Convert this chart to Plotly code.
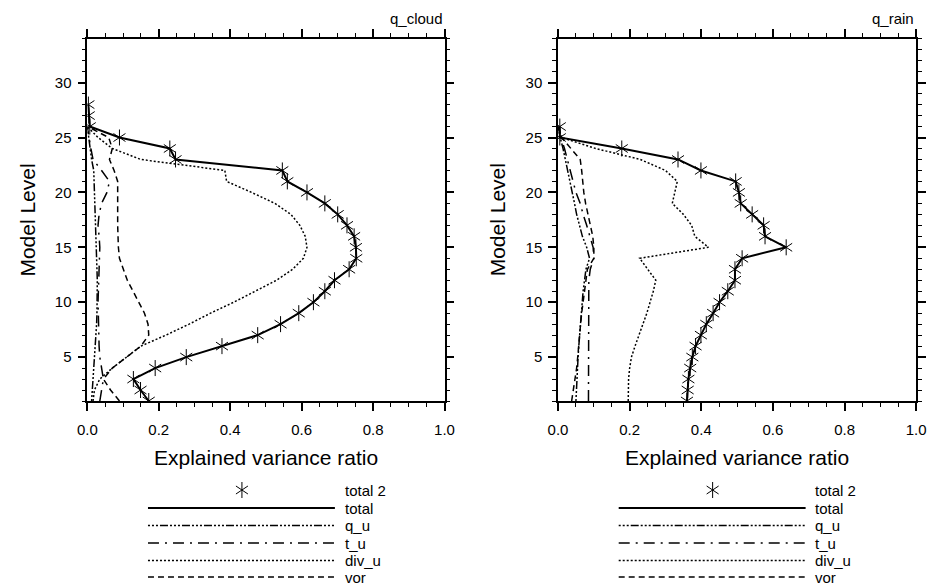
import plotly.graph_objects as go

W, H = 935, 584

# Model levels
levels_cloud = list(range(1, 29))
levels = list(range(1, 27))

# q_cloud panel
total_cloud = [0.172, 0.149, 0.129, 0.19, 0.277, 0.377, 0.477, 0.541, 0.592, 0.633,
               0.665, 0.692, 0.733, 0.753, 0.752, 0.747, 0.727, 0.701, 0.665, 0.615,
               0.56, 0.546, 0.247, 0.231, 0.09, 0.007, 0.004, 0.003]
qu_cloud = [0.012, 0.014, 0.016, 0.02, 0.022, 0.024, 0.025, 0.026, 0.027, 0.028,
            0.028, 0.028, 0.027, 0.026, 0.025, 0.024, 0.023, 0.022, 0.021, 0.02,
            0.02, 0.018, 0.012, 0.008, 0.004, 0.0]
tu_cloud = [0.035, 0.04, 0.045, 0.04, 0.035, 0.033, 0.032, 0.03, 0.03, 0.03,
            0.031, 0.032, 0.033, 0.034, 0.035, 0.033, 0.03, 0.033, 0.04, 0.055,
            0.062, 0.04, 0.016, 0.01, 0.005, 0.0]
divu_cloud = [0.016, 0.02, 0.035, 0.07, 0.11, 0.15, 0.22, 0.285, 0.345, 0.41,
              0.47, 0.53, 0.575, 0.605, 0.615, 0.61, 0.595, 0.57, 0.525, 0.46,
              0.39, 0.385, 0.15, 0.07, 0.03, 0.0]
vor_cloud = [0.09, 0.065, 0.045, 0.07, 0.11, 0.15, 0.172, 0.17, 0.16, 0.145,
             0.128, 0.112, 0.1, 0.09, 0.087, 0.085, 0.085, 0.085, 0.085, 0.085,
             0.085, 0.075, 0.062, 0.07, 0.06, 0.0]

# q_rain panel
total_rain = [0.36, 0.362, 0.364, 0.369, 0.375, 0.384, 0.399, 0.414, 0.433, 0.451,
              0.474, 0.494, 0.494, 0.514, 0.637, 0.578, 0.574, 0.542, 0.51, 0.505,
              0.496, 0.399, 0.335, 0.178, 0.005, 0.005]
qu_rain = [0.05, 0.051, 0.052, 0.054, 0.056, 0.058, 0.06, 0.062, 0.064, 0.067,
           0.07, 0.074, 0.078, 0.088, 0.08, 0.068, 0.059, 0.052, 0.046, 0.04,
           0.033, 0.027, 0.02, 0.014, 0.006, 0.0]
tu_rain = [0.085, 0.085, 0.085, 0.085, 0.085, 0.085, 0.085, 0.085, 0.085, 0.085,
           0.085, 0.086, 0.09, 0.1, 0.098, 0.09, 0.08, 0.07, 0.062, 0.05,
           0.042, 0.035, 0.028, 0.018, 0.008, 0.0]
divu_rain = [0.196, 0.196, 0.197, 0.2, 0.205, 0.215, 0.225, 0.237, 0.248, 0.258,
             0.266, 0.273, 0.25, 0.228, 0.42, 0.382, 0.373, 0.35, 0.319, 0.325,
             0.333, 0.3, 0.23, 0.105, 0.01, 0.0]
vor_rain = [0.038, 0.043, 0.048, 0.052, 0.055, 0.057, 0.06, 0.063, 0.066, 0.07,
            0.074, 0.078, 0.082, 0.1, 0.1, 0.097, 0.09, 0.085, 0.077, 0.072,
            0.07, 0.066, 0.062, 0.035, 0.01, 0.0]

legend_names = ['total 2', 'total', 'q_u', 't_u', 'div_u', 'vor']

FONT = 'Liberation Sans, Arial, Helvetica, sans-serif'
DASH = {
    'total': 'solid',
    'q_u': '2px,2px,2px,2px,2px,2px,8px,2px',
    't_u': '11px,6px,2px,6px',
    'div_u': '2px,2px',
    'vor': '6px,4px',
}
WIDTH = {'total': 2, 'q_u': 1.5, 't_u': 1.5, 'div_u': 1.5, 'vor': 1.5}


def fx(px):
    return px / W


def fy(py):
    return 1 - py / H


def star_traces(x, y, xa, ya):
    out = []
    for sym in ['y-up', 'y-down']:
        out.append(go.Scatter(
            x=x, y=y, xaxis=xa, yaxis=ya, mode='markers', showlegend=False,
            marker=dict(symbol=sym, size=10, color='black',
                        line=dict(width=1, color='black')),
        ))
    return out


def panel_traces(lev_tot, total, qu, tu, divu, vor, xa, ya):
    traces = []
    for name, vals in [('vor', vor), ('div_u', divu), ('t_u', tu), ('q_u', qu)]:
        traces.append(go.Scatter(
            x=vals, y=levels, xaxis=xa, yaxis=ya, mode='lines', showlegend=False,
            line=dict(color='black', width=WIDTH[name], dash=DASH[name]),
        ))
    traces.append(go.Scatter(
        x=total, y=lev_tot, xaxis=xa, yaxis=ya, mode='lines', showlegend=False,
        line=dict(color='black', width=WIDTH['total']),
    ))
    traces.extend(star_traces(total, lev_tot, xa, ya))
    return traces


traces = []
traces += panel_traces(levels_cloud, total_cloud, qu_cloud, tu_cloud, divu_cloud, vor_cloud, 'x', 'y')
traces += panel_traces(levels, total_rain, qu_rain, tu_rain, divu_rain, vor_rain, 'x2', 'y2')

# Hand-drawn legends below each panel, on a pixel overlay axis.
annotations = []
row_y = [490, 508, 525.5, 543, 560.5, 577]
for x0 in [141, 622]:
    x1 = x0 + 191
    traces.extend(star_traces([x0 + 96], [row_y[0]], 'x3', 'y3'))
    for name, yy in zip(legend_names[1:], row_y[1:]):
        traces.append(go.Scatter(
            x=[x0, x1], y=[yy, yy], xaxis='x3', yaxis='y3', mode='lines', showlegend=False,
            line=dict(color='black', width=WIDTH[name], dash=DASH[name]),
        ))
    for name, yy in zip(legend_names, row_y):
        annotations.append(dict(
            x=fx(x1 + 8), y=fy(yy), xref='paper', yref='paper', text=name,
            showarrow=False, xanchor='left', yanchor='middle',
            font=dict(family=FONT, size=15, color='black'),
        ))

# Titles and axis labels
for x_left, x_right, title in [(79, 444, 'q_cloud'), (560, 926, 'q_rain')]:
    annotations.append(dict(
        x=fx(x_right), y=fy(18), xref='paper', yref='paper', text=title,
        showarrow=False, xanchor='right', yanchor='middle',
        font=dict(family=FONT, size=15, color='black'),
    ))
    annotations.append(dict(
        x=fx((x_left + x_right) / 2), y=fy(457), xref='paper', yref='paper',
        text='Explained variance ratio', showarrow=False, xanchor='center', yanchor='middle',
        font=dict(family=FONT, size=21, color='black'),
    ))
    annotations.append(dict(
        x=fx(x_left - 61), y=fy(220), xref='paper', yref='paper',
        text='Model Level', textangle=-90, showarrow=False,
        xanchor='center', yanchor='middle',
        font=dict(family=FONT, size=21, color='black'),
    ))

common = dict(
    showline=True, linecolor='black', linewidth=1.5, mirror='ticks',
    ticks='outside', ticklen=8, tickwidth=1.5, tickcolor='black',
    showgrid=False, zeroline=False,
    tickfont=dict(family=FONT, size=15, color='black'),
)
xcommon = dict(common, range=[0, 1], dtick=0.2, tick0=0, tickformat='.1f',
               ticklabelstandoff=6,
               minor=dict(dtick=0.05, ticklen=4, tickwidth=1, tickcolor='black', ticks='outside'))
ycommon = dict(common, range=[1, 34], dtick=5, tick0=0, ticklabelstandoff=3,
               minor=dict(dtick=1, ticklen=4, tickwidth=1, tickcolor='black', ticks='outside'))

layout = dict(
    width=W, height=H,
    margin=dict(l=0, r=0, t=0, b=0),
    paper_bgcolor='white', plot_bgcolor='rgba(0,0,0,0)',
    showlegend=False,
    xaxis=dict(xcommon, domain=[fx(79), fx(444)], anchor='y'),
    yaxis=dict(ycommon, domain=[fy(401), fy(38.7)], anchor='x'),
    xaxis2=dict(xcommon, domain=[fx(560), fx(926)], anchor='y2'),
    yaxis2=dict(ycommon, domain=[fy(401), fy(38.7)], anchor='x2'),
    xaxis3=dict(domain=[0, 1], range=[0, W], visible=False, fixedrange=True, anchor='y3'),
    yaxis3=dict(domain=[0, 1], range=[H, 0], visible=False, fixedrange=True, anchor='x3'),
    annotations=annotations,
)

fig = go.Figure(data=traces, layout=layout)
# no page margin or scrollbars, so the figure fills the window exactly
page_fix = ("document.documentElement.style.overflow = 'hidden';"
            "document.body.style.overflow = 'hidden';"
            "document.body.style.margin = '0';")
fig.write_html("out.html", config={'displayModeBar': False}, post_script=page_fix)
